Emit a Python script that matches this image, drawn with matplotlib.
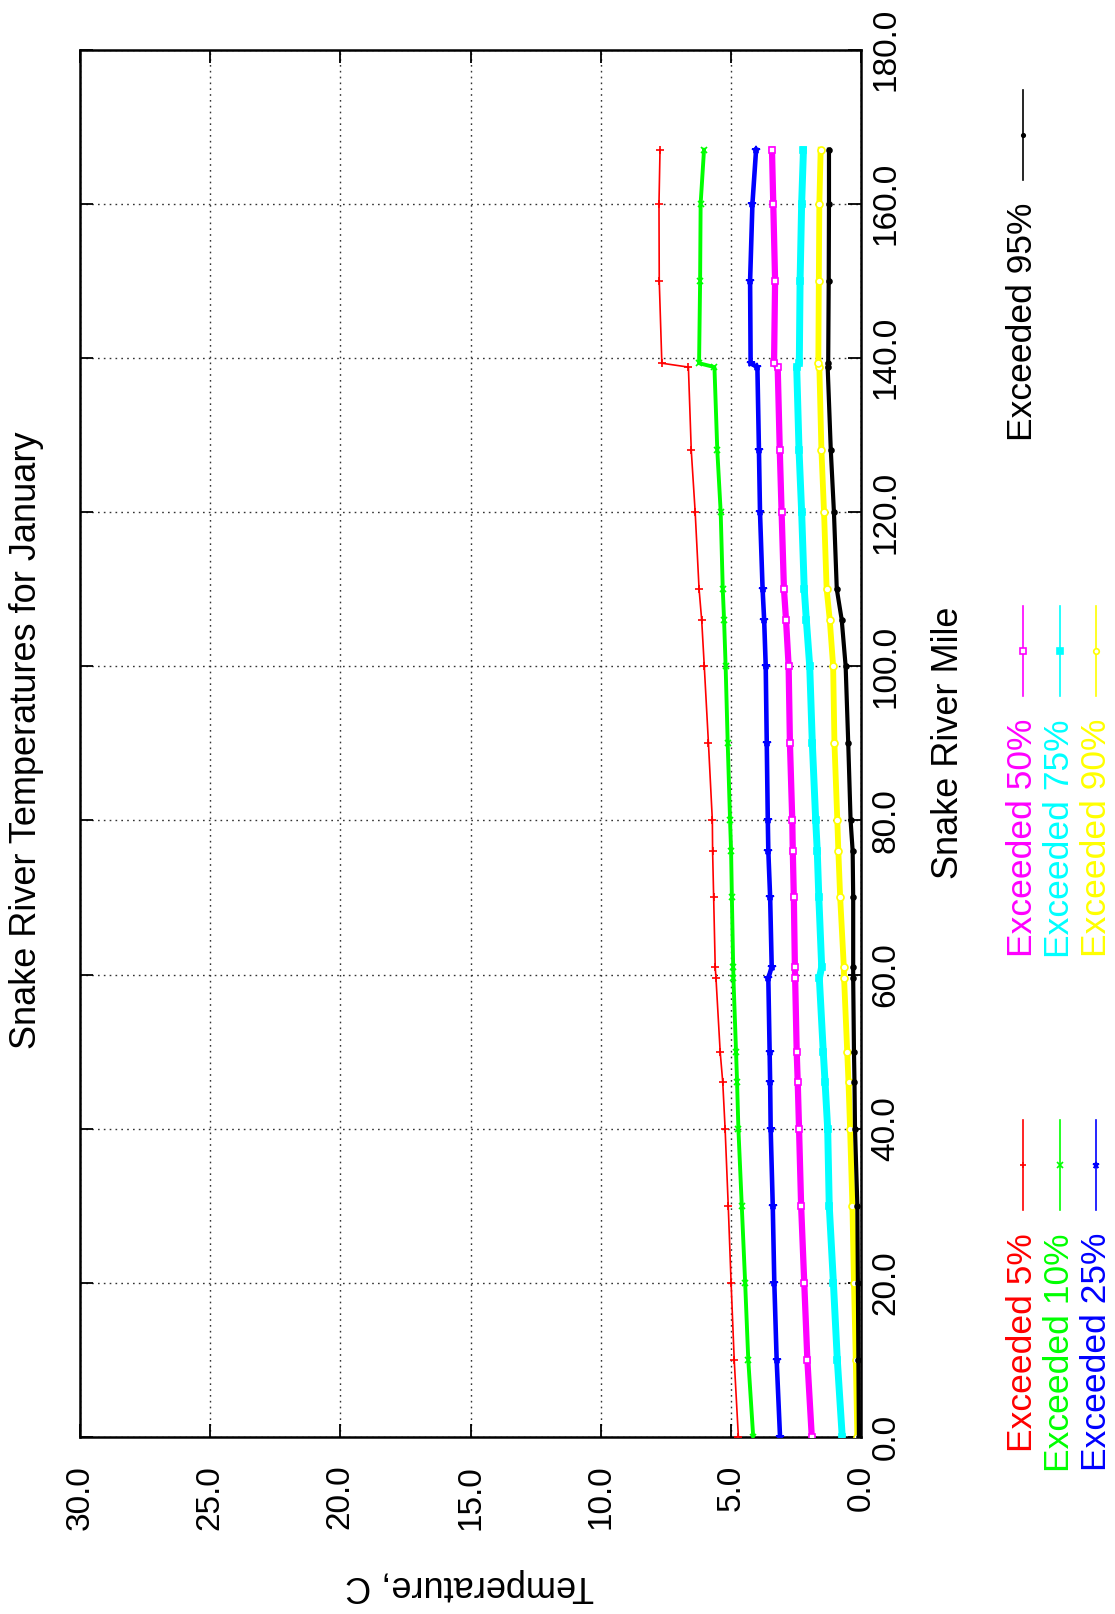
import matplotlib
matplotlib.use("Agg")
import matplotlib.pyplot as plt
from matplotlib.lines import Line2D

plt.rcParams['font.family'] = ['Liberation Sans', 'DejaVu Sans']

W, H = 1115, 1614

# river mile where each temperature was read
miles = [0, 10, 20, 30, 40, 46, 50, 59.5, 61, 70, 76, 80, 90, 100, 106, 110,
         120, 128, 138.8, 139.3, 150, 160, 167]

exc_5 = [4.71, 4.87, 4.99, 5.10, 5.22, 5.31, 5.41, 5.57, 5.60, 5.66, 5.70, 5.71,
         5.86, 6.02, 6.12, 6.22, 6.37, 6.52, 6.63, 7.65, 7.75, 7.76, 7.72]
exc_10 = [4.14, 4.33, 4.45, 4.58, 4.71, 4.76, 4.80, 4.90, 4.91, 4.96, 4.99, 5.03,
          5.12, 5.20, 5.26, 5.31, 5.39, 5.52, 5.63, 6.22, 6.18, 6.16, 6.03]
exc_25 = [3.11, 3.24, 3.33, 3.39, 3.47, 3.49, 3.51, 3.56, 3.43, 3.49, 3.56, 3.58,
          3.62, 3.66, 3.72, 3.78, 3.88, 3.92, 3.98, 4.24, 4.26, 4.17, 4.03]
exc_50 = [1.89, 2.06, 2.18, 2.30, 2.38, 2.43, 2.47, 2.53, 2.54, 2.58, 2.62, 2.64,
          2.73, 2.78, 2.88, 2.96, 3.05, 3.12, 3.20, 3.34, 3.30, 3.37, 3.42]
exc_75 = [0.72, 0.91, 1.06, 1.22, 1.28, 1.38, 1.45, 1.60, 1.51, 1.62, 1.68, 1.74,
          1.87, 1.97, 2.10, 2.18, 2.28, 2.38, 2.47, 2.37, 2.34, 2.28, 2.21]
exc_90 = [0.14, 0.20, 0.27, 0.33, 0.42, 0.48, 0.53, 0.65, 0.66, 0.80, 0.87, 0.91,
          1.02, 1.07, 1.20, 1.32, 1.42, 1.52, 1.60, 1.64, 1.62, 1.60, 1.55]
exc_95 = [0.08, 0.10, 0.12, 0.14, 0.23, 0.25, 0.27, 0.30, 0.30, 0.30, 0.32, 0.40,
          0.49, 0.59, 0.74, 0.93, 1.04, 1.16, 1.28, 1.26, 1.24, 1.23, 1.23]

labels = ['Exceeded 5%', 'Exceeded 10%', 'Exceeded 25%', 'Exceeded 50%',
          'Exceeded 75%', 'Exceeded 90%', 'Exceeded 95%']
series = [exc_5, exc_10, exc_25, exc_50, exc_75, exc_90, exc_95]

temp_ticks = [0, 5, 10, 15, 20, 25, 30]
mile_ticks = [0, 20, 40, 60, 80, 100, 120, 140, 160, 180]

# style per series: color, band width, marker, marker size, filled
styles = [
    ('#ff0000', 1.2, '+', 6, True),
    ('#00ff00', 2.8, 'x', 5, True),
    ('#0000ff', 3.3, '*', 6, True),
    ('#ff00ff', 4.5, 's', 5, False),
    ('#00ffff', 5.0, 's', 5, True),
    ('#ffff00', 4.2, 'o', 5, False),
    ('#000000', 3.0, 'o', 3.5, True),
]


def fx(px):
    return px / W


def fy(py):
    return 1 - py / H


fig = plt.figure(figsize=(W / 100, H / 100), dpi=100)
ax = fig.add_axes([fx(80), fy(1437), (861 - 80) / W, (1437 - 49.5) / H])

for vals, (c, lw, m, ms, filled) in zip(series, styles):
    ax.plot(vals, miles, color=c, lw=lw, marker=m, ms=ms,
            mfc=c if filled else 'white', mec=c, mew=1.2, zorder=3)

ax.set_xlim(30, 0)
ax.set_ylim(0, 180)
ax.set_xticks(temp_ticks)
ax.set_xticklabels(['%.1f' % t for t in temp_ticks])
ax.set_yticks(mile_ticks)
ax.set_yticklabels(['%.1f' % m for m in mile_ticks])

ax.tick_params(axis='both', direction='in', length=9.5, width=1.3,
               top=True, bottom=True, left=True, right=True)
ax.tick_params(axis='x', labelsize=24, pad=20, labelrotation=90)
ax.tick_params(axis='y', labelsize=24, pad=7, labelrotation=90,
               labelleft=False, labelright=True)
for t in ax.get_yticklabels():
    t.set_va('center')

ax.grid(True, color='#333333', linestyle=(0, (1.2, 3)), linewidth=1.0, zorder=1)
for sp in ax.spines.values():
    sp.set_linewidth(1.8)

fig.text(fx(27), fy(740), 'Snake River Temperatures for January',
         rotation=90, ha='center', va='center', fontsize=26)
fig.text(fx(470), fy(1586), 'Temperature, C',
         rotation=180, ha='center', va='center', fontsize=26)
fig.text(fx(949), fy(743), 'Snake River Mile',
         rotation=90, ha='center', va='center', fontsize=26)

# key, three rows of three (page is turned on its side)
col_x = [1023, 1059.5, 1096]
row_y = [1210, 696, 180]
for i, (lab, (c, lw, m, ms, filled)) in enumerate(zip(labels, styles)):
    x = col_x[i % 3]
    yb = row_y[i // 3]
    fig.add_artist(Line2D([fx(x), fx(x)], [fy(yb), fy(yb - 90)],
                          transform=fig.transFigure, color=c, lw=1.2))
    fig.add_artist(Line2D([fx(x)], [fy(yb - 45)], transform=fig.transFigure,
                          marker=m, ms=ms - 1, color=c,
                          mfc=c if filled else 'white', mec=c, mew=1.2))
    fig.text(fx(x), fy(yb + 23), lab, color=c, rotation=90,
             ha='center', va='top', fontsize=25.5)

fig.savefig('out.png', dpi=100)
